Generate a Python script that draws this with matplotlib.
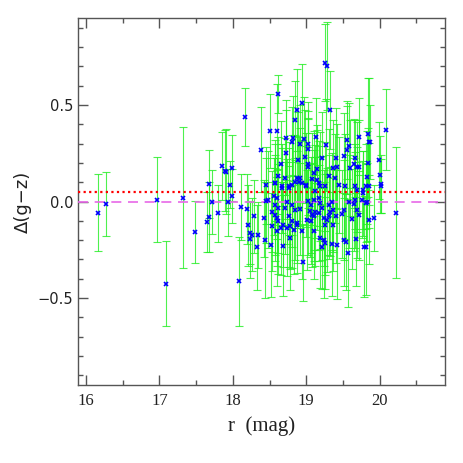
import matplotlib
matplotlib.use("Agg")
import matplotlib.pyplot as plt
from matplotlib.ticker import MultipleLocator

# r magnitude, colour offset and its error
r_mag = [
    16.16, 16.27, 16.96, 17.09, 17.32, 17.48, 17.65, 17.67, 17.67, 17.72,
    17.80, 17.85, 17.89, 17.90, 17.94, 17.96, 17.99, 17.99, 18.08, 18.16,
    18.11, 18.19, 18.29, 18.20, 18.24, 18.26, 18.34, 18.24, 18.33, 18.39,
    18.43, 18.44, 18.45, 18.45, 18.48, 18.50, 18.52, 18.53, 18.53, 18.555,
    18.57, 18.57, 18.58, 18.58, 18.60, 18.60, 18.60, 18.60, 18.61, 18.62,
    18.62, 18.62, 18.65, 18.65, 18.67, 18.67, 18.69, 18.69, 18.71, 18.71,
    18.72, 18.72, 18.74, 18.74, 18.76, 18.76, 18.76, 18.78, 18.78, 18.80,
    18.81, 18.81, 18.81, 18.82, 18.83, 18.84, 18.85, 18.85, 18.87, 18.87,
    18.87, 18.87, 18.89, 18.90, 18.91, 18.92, 18.92, 18.94, 18.94, 18.94,
    18.96, 18.97, 18.98, 18.99, 18.99, 19.01, 19.02, 19.02, 19.03, 19.03,
    19.03, 19.056, 19.07, 19.07, 19.08, 19.08, 19.10, 19.10, 19.10, 19.10,
    19.12, 19.12, 19.13, 19.15, 19.15, 19.17, 19.17, 19.18, 19.19, 19.19,
    19.19, 19.21, 19.22, 19.22, 19.24, 19.24, 19.25, 19.25, 19.26, 19.26,
    19.27, 19.28, 19.28, 19.31, 19.31, 19.31, 19.32, 19.33, 19.35, 19.35,
    19.36, 19.37, 19.37, 19.39, 19.40, 19.40, 19.42, 19.42, 19.44, 19.49,
    19.51, 19.51, 19.52, 19.53, 19.54, 19.56, 19.56, 19.57, 19.58, 19.58,
    19.60, 19.62, 19.65, 19.65, 19.67, 19.67, 19.67, 19.68, 19.69, 19.69,
    19.69, 19.72, 19.72, 19.72, 19.76, 19.78, 19.78, 19.79, 19.81, 19.82,
    19.82, 19.83, 19.83, 19.84, 19.84, 19.85, 19.86, 19.86, 19.87, 19.93,
    19.99, 20.00, 20.02, 20.02, 20.08, 20.22,
]
d_gz = [
    -0.057, -0.013, 0.009, -0.427, 0.020, -0.158, -0.105, -0.081, 0.092, -0.003,
    -0.062, 0.185, 0.160, 0.155, -0.005, 0.088, 0.173, 0.030, -0.414, 0.437,
    -0.030, -0.040, -0.077, -0.124, -0.164, -0.172, -0.172, -0.195, -0.238, 0.267,
    -0.086, -0.198, 0.083, 0.005, 0.010, 0.366, -0.224, -0.052, -0.129, 0.026,
    -0.069, 0.098, -0.017, 0.098, 0.366, 0.017, -0.086, -0.155, 0.556, -0.034,
    -0.103, 0.133, -0.138, 0.195, 0.069, 0.078, -0.120, -0.228, -0.034, 0.121,
    0.328, 0.253, -0.138, 0.000, -0.077, 0.069, 0.078, -0.129, -0.190, 0.310,
    -0.103, -0.017, 0.086, 0.328, -0.146, 0.423, -0.043, 0.103, 0.474, -0.120,
    0.121, -0.110, 0.216, 0.103, 0.298, -0.038, 0.121, 0.512, -0.152, 0.098,
    -0.314, 0.323, 0.233, 0.086, 0.078, -0.095, 0.297, 0.181, 0.271, 0.195,
    0.004, -0.048, -0.017, -0.103, -0.069, 0.116, 0.009, -0.077, -0.152, 0.147,
    -0.052, 0.052, 0.336, 0.168, 0.112, 0.017, 0.095, -0.060, -0.008, 0.078,
    -0.190, 0.224, -0.034, -0.233, -0.086, -0.198, 0.719, -0.215, -0.120, 0.078,
    0.292, 0.702, -0.095, -0.077, -0.017, 0.133, 0.474, -0.052, 0.000, -0.220,
    -0.120, -0.043, 0.173, 0.121, 0.224, -0.077, 0.181, -0.224, 0.086, -0.065,
    -0.043, -0.198, 0.236, 0.078, -0.210, 0.319, 0.267, -0.267, 0.288, 0.000,
    0.173, -0.090, 0.195, -0.014, 0.224, 0.009, 0.078, -0.195, 0.181, -0.043,
    0.060, 0.336, 0.181, -0.072, 0.009, 0.043, 0.060, -0.233, 0.078, -0.008,
    -0.233, 0.126, -0.003, 0.350, 0.202, 0.081, 0.310, -0.095, 0.309, -0.086,
    0.214, 0.138, 0.090, 0.081, 0.372, -0.057,
]
d_gz_err = [
    0.20, 0.165, 0.22, 0.22, 0.365, 0.16, 0.155, 0.18, 0.175, 0.165,
    0.15, 0.175, 0.21, 0.22, 0.175, 0.12, 0.17, 0.14, 0.23, 0.15,
    0.17, 0.18, 0.19, 0.21, 0.16, 0.19, 0.17, 0.20, 0.22, 0.22,
    0.20, 0.30, 0.20, 0.22, 0.25, 0.19, 0.27, 0.21, 0.23, 0.20,
    0.24, 0.22, 0.26, 0.20, 0.24, 0.21, 0.25, 0.28, 0.10, 0.23,
    0.27, 0.20, 0.24, 0.22, 0.23, 0.20, 0.22, 0.26, 0.24, 0.21,
    0.20, 0.22, 0.25, 0.22, 0.26, 0.24, 0.20, 0.22, 0.27, 0.18,
    0.24, 0.22, 0.26, 0.22, 0.23, 0.20, 0.26, 0.24, 0.21, 0.25,
    0.22, 0.21, 0.25, 0.23, 0.20, 0.24, 0.26, 0.20, 0.25, 0.22,
    0.20, 0.22, 0.24, 0.27, 0.21, 0.26, 0.22, 0.25, 0.20, 0.23,
    0.28, 0.24, 0.25, 0.22, 0.27, 0.24, 0.26, 0.23, 0.25, 0.22,
    0.28, 0.24, 0.20, 0.23, 0.26, 0.27, 0.22, 0.25, 0.24, 0.28,
    0.26, 0.24, 0.27, 0.22, 0.25, 0.30, 0.20, 0.24, 0.26, 0.23,
    0.24, 0.23, 0.27, 0.22, 0.26, 0.24, 0.20, 0.23, 0.25, 0.27,
    0.24, 0.22, 0.25, 0.23, 0.26, 0.24, 0.22, 0.28, 0.25, 0.23,
    0.26, 0.24, 0.22, 0.27, 0.25, 0.20, 0.23, 0.28, 0.22, 0.24,
    0.25, 0.26, 0.23, 0.24, 0.20, 0.25, 0.22, 0.24, 0.23, 0.25,
    0.22, 0.20, 0.24, 0.23, 0.20, 0.22, 0.20, 0.26, 0.22, 0.20,
    0.25, 0.24, 0.20, 0.29, 0.18, 0.22, 0.33, 0.23, 0.19, 0.17,
    0.20, 0.20, 0.15, 0.14, 0.21, 0.34,
]

offset_line = 0.05
x_ticks = [16, 17, 18, 19, 20]
y_ticks = [-0.5, 0.0, 0.5]

fig = plt.figure(figsize=(4.63, 4.63), dpi=100)
ax = fig.add_axes([0.1685, 0.1685, 0.7925, 0.7925])

ax.errorbar(r_mag, d_gz, yerr=d_gz_err, fmt="none", ecolor="#22ee22",
            elinewidth=0.8, capsize=3, capthick=0.8, alpha=0.8, zorder=2)
ax.axhline(offset_line, color="red", ls=(0, (1, 1.5)), lw=1.6, zorder=3)
ax.axhline(0.0, color="#e868e8", ls=(0, (6, 4)), lw=1.2, zorder=3)
ax.plot(r_mag, d_gz, "x", color="#0000ff", ms=3.5, mew=1.2, zorder=4)

ax.set_xlim(15.89, 20.89)
ax.set_ylim(-0.95, 0.95)
ax.set_xticks(x_ticks)
ax.set_yticks(y_ticks)
ax.set_xticklabels([str(t) for t in x_ticks], family="Liberation Serif",
                   fontsize=12, color="#222222")
ax.set_yticklabels(["\u22120.5", "0.0", "0.5"], fontsize=10.5, color="#222222")
ax.xaxis.set_minor_locator(MultipleLocator(0.5))
ax.yaxis.set_minor_locator(MultipleLocator(0.1))
ax.tick_params(which="both", direction="in", top=True, right=True,
               color="#555555", width=1)
ax.tick_params(which="major", length=7)
ax.tick_params(which="minor", length=3.6)
ax.tick_params(axis="x", pad=6)
for s in ax.spines.values():
    s.set_color("#555555")
    s.set_linewidth(1)

ax.set_xlabel("r  (mag)", family="Liberation Serif", fontsize=15, labelpad=5,
              color="#222222")
ax.set_ylabel("\u0394(g\u2212z)", fontsize=13, labelpad=4, color="#222222")

fig.savefig("out.png", dpi=100)
